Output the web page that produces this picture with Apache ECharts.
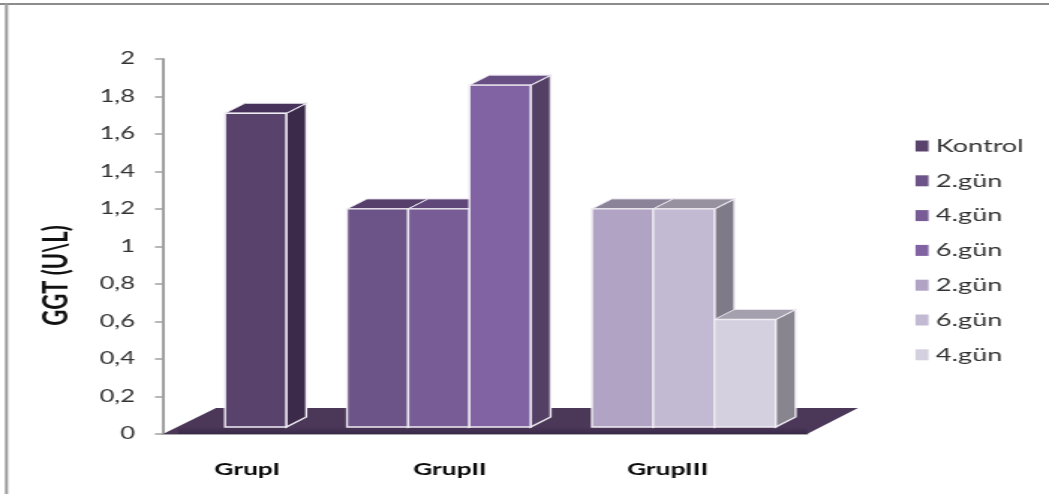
<!DOCTYPE html>
<html>
<head>
<meta charset="utf-8">
<style>
  html, body { margin: 0; padding: 0; background: #fff; overflow: hidden; }
  /* The plot is laid out at 700 wide and widened to the full page. */
  #chart { width: 700px; height: 494px; transform-origin: 0 0; transform: scaleX(1.49857); }
</style>
<script src="https://cdn.jsdelivr.net/npm/echarts@6/dist/echarts.min.js"></script>
</head>
<body>
<div id="chart"></div>
<script>
const categories = ['GrupI', 'GrupII', 'GrupIII'];
const legendLabels = ['Kontrol', '2.gün', '4.gün', '6.gün', '2.gün', '6.gün', '4.gün'];
const kontrol  = [1.7, null, null];
const g2Day2   = [null, 1.19, null];
const g2Day4   = [null, 1.19, null];
const g2Day6   = [null, 1.85, null];
const g3Day2   = [null, null, 1.19];
const g3Day6   = [null, null, 1.19];
const g3Day4   = [null, null, 0.6];
const yTicks = ['0', '0,2', '0,4', '0,6', '0,8', '1', '1,2', '1,4', '1,6', '1,8', '2'];

const seriesValues = [kontrol, g2Day2, g2Day4, g2Day6, g3Day2, g3Day6, g3Day4];

// Layout, in the 700-wide plot units
const K = 1.49857;
const u = v => v / K;
const barWidth = u(61.2);
const depthX = u(20), depthY = 10;
const floorDepthX = u(53), floorDepthY = 26;
const basePlane = 7, topPlane = 2;
const barOffsets = [-45.3, -138, -76.8, -15.6, -107.7, -46.5, 14.7].map(u);
const labelShift = [46, 70, 64].map(u);

const faceColors = ['#59436d', '#6c5488', '#775c96', '#8163a3', '#b1a3c4', '#c2b9d2', '#d5d0df'];
const topColors  = ['#46325a', '#573f6c', '#5f4779', '#674e83', '#8b8398', '#97919f', '#a5a0ae'];
const sideColors = ['#3b2a4a', '#4a3659', '#4a3659', '#534064', '#7e7888', '#7f7a88', '#88858f'];

function renderFloor(params, api) {
  const a = api.coord([0, 0]);
  const x0 = params.coordSys.x, x1 = x0 + params.coordSys.width, y = a[1];
  return {
    type: 'group',
    children: [
      { type: 'polygon', silent: true,
        shape: { points: [[x0, y], [x1, y], [x1 + floorDepthX - u(2), y - floorDepthY],
                          [x0 + floorDepthX, y - floorDepthY]] },
        style: { fill: '#4b3859' } },
      { type: 'rect', silent: true,
        shape: { x: x0 + u(15), y: y - 7, width: x1 - x0 - u(15), height: 7 },
        style: { fill: new echarts.graphic.LinearGradient(0, 0, 0, 1,
          [{ offset: 0, color: 'rgba(58,40,72,0)' }, { offset: 1, color: '#3a2848' }]) } }
    ]
  };
}

function renderBar(seriesIndex) {
  return function (params, api) {
    const value = api.value(1);
    const cat = api.value(0);
    if (value == null || isNaN(value)) return null;
    const zero = api.coord([cat, 0]);
    const top = api.coord([cat, value]);
    const x0 = zero[0] + barOffsets[seriesIndex];
    const x1 = x0 + barWidth;
    const yBase = zero[1] - basePlane;
    const yTop = top[1] - topPlane;
    const edge = { stroke: '#efecf2', lineWidth: 1.4, lineJoin: 'miter' };
    return {
      type: 'group',
      children: [
        { type: 'polygon',
          shape: { points: [[x1, yTop], [x1 + depthX, yTop - depthY], [x1 + depthX, yBase - depthY], [x1, yBase]] },
          style: Object.assign({ fill: sideColors[seriesIndex] }, edge) },
        { type: 'polygon',
          shape: { points: [[x0, yTop], [x0 + depthX, yTop - depthY], [x1 + depthX, yTop - depthY], [x1, yTop]] },
          style: Object.assign({ fill: topColors[seriesIndex] }, edge, { stroke: '#e9e5ee', lineWidth: 1 }) },
        { type: 'rect',
          shape: { x: x0, y: yTop, width: barWidth, height: yBase - yTop },
          style: Object.assign({ fill: faceColors[seriesIndex] }, edge) }
      ]
    };
  };
}

const barSeries = seriesValues.map((vals, i) => ({
  type: 'custom',
  name: i + ' ' + legendLabels[i],
  renderItem: renderBar(i),
  encode: { x: 0, y: 1 },
  itemStyle: { color: faceColors[i] },
  clip: false,
  animation: false,
  z: 3 + i,
  data: vals.map((v, c) => [c, v])
}));

const groupLabel = i => ({ fontFamily: 'Lato', fontWeight: 'bold', fontSize: 17.5, color: '#0a0a0a', padding: [0, labelShift[i], 0, 0] });

const chart = echarts.init(document.getElementById('chart'), null, { renderer: 'canvas' });
chart.setOption({
  animation: false,
  backgroundColor: '#fff',
  graphic: [
    { type: 'line', z: 100, shape: { x1: 0, y1: 4, x2: 700, y2: 4 }, style: { stroke: '#8c8c8c', lineWidth: 2 } },
    { type: 'line', z: 100, shape: { x1: u(6.5), y1: 3, x2: u(6.5), y2: 494 }, style: { stroke: '#9a9a9a', lineWidth: 2 } }
  ],
  grid: { left: u(163), top: 59, width: u(644), height: 375, containLabel: false },
  legend: {
    orient: 'vertical',
    left: u(908),
    top: 132,
    icon: 'rect',
    itemWidth: u(13),
    itemHeight: 11,
    itemGap: 16.8,
    selectedMode: false,
    data: barSeries.map(s => s.name),
    formatter: name => name.split(' ')[1],
    textStyle: { fontFamily: 'Lato', fontSize: 18, color: '#333' }
  },
  xAxis: {
    type: 'category',
    data: categories,
    axisLine: { show: true, lineStyle: { color: '#a8a8a8', width: 2 } },
    axisTick: { show: false },
    axisLabel: {
      margin: 26,
      interval: 0,
      formatter: (v, i) => '{g' + i + '|' + v + '}',
      rich: { g0: groupLabel(0), g1: groupLabel(1), g2: groupLabel(2) }
    }
  },
  yAxis: {
    type: 'value',
    min: 0,
    max: 2,
    interval: 0.2,
    name: 'GGT (U\\L)',
    nameLocation: 'middle',
    nameGap: u(163 - 73),
    nameTextStyle: { fontFamily: 'Lato', fontSize: 22, fontWeight: 'bold', color: '#111', padding: [0, 58, 0, 0] },
    splitLine: { show: false },
    axisLine: { show: true, lineStyle: { color: '#a0a0a0', width: 2 } },
    axisTick: { show: true, length: u(8), lineStyle: { color: '#a0a0a0', width: 1.5 } },
    axisLabel: {
      margin: u(28),
      padding: [2, 0, 0, 0],
      fontFamily: 'Lato',
      fontSize: 17,
      color: '#333',
      formatter: v => yTicks[Math.round(v / 0.2)]
    }
  },
  series: [
    { type: 'custom', name: 'floor', renderItem: renderFloor, encode: { x: 0, y: 1 },
      data: [[0, 0]], z: 1, clip: false, silent: true, animation: false }
  ].concat(barSeries)
});
</script>
</body>
</html>
